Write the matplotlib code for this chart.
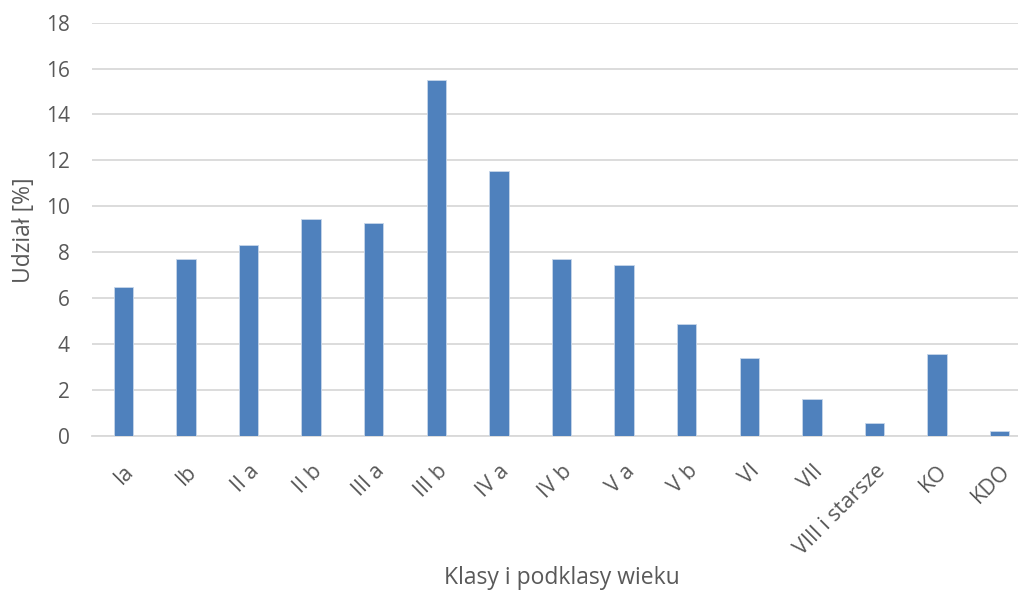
import matplotlib
matplotlib.use("Agg")
import matplotlib.pyplot as plt

categories = ["Ia", "Ib", "II a", "II b", "III a", "III b", "IV a", "IV b",
              "V a", "V b", "VI", "VII", "VIII i starsze", "KO", "KDO"]
values = [6.47, 7.69, 8.30, 9.43, 9.26, 15.50, 11.54, 7.70,
          7.43, 4.88, 3.40, 1.61, 0.57, 3.56, 0.22]
yticks = [0, 2, 4, 6, 8, 10, 12, 14, 16, 18]

plt.rcParams['font.family'] = ['Open Sans', 'DejaVu Sans']
text_color = "#595959"

fig = plt.figure(figsize=(10.18, 5.92), dpi=100)
W, H = 1018, 592
left, right, top, bottom = 92, 1031, 22.7, 435.7
ax = fig.add_axes([left / W, 1 - bottom / H, (right - left) / W, (bottom - top) / H])

x = list(range(len(categories)))
ax.bar(x, values, width=0.31, color="#4F81BD", edgecolor="#C7D6EA", linewidth=0.6, zorder=3)

ax.set_xlim(-0.5, len(categories) - 0.5)
ax.set_ylim(0, 18)
ax.set_yticks(yticks)
ax.set_yticklabels([str(t) for t in yticks], fontsize=15, color=text_color)
ax.yaxis.grid(True, color="#D9D9D9", linewidth=1.3, zorder=0)
ax.set_axisbelow(True)
for s in ["top", "right", "left"]:
    ax.spines[s].set_visible(False)
ax.spines["bottom"].set_color("#D9D9D9")
ax.spines["bottom"].set_linewidth(1.3)
ax.tick_params(axis="y", length=0, pad=16)
ax.tick_params(axis="x", length=0, pad=18)

ax.set_xticks(x)
ax.set_xticklabels(categories, rotation=45, ha="right", rotation_mode="anchor",
                   fontsize=15.5, color=text_color)

fig.text(24 / W, 1 - 230 / H, "Udział [%]", rotation=90,
         fontsize=16.5, color=text_color, ha="center", va="center")
fig.text((left + right) / 2 / W, 1 - 578 / H, "Klasy i podklasy wieku",
         fontsize=16.5, color=text_color, ha="center", va="center")

fig.savefig("out.png", dpi=100)
